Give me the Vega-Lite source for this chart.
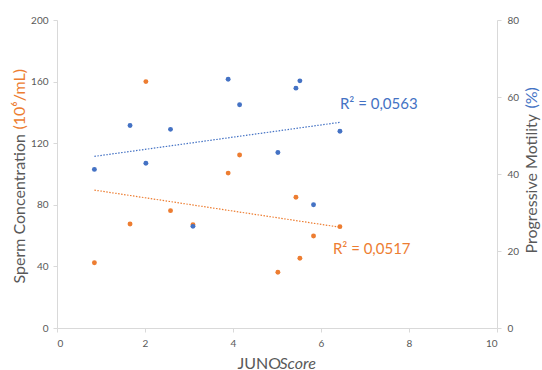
{
  "$schema": "https://vega.github.io/schema/vega-lite/v6.json",
  "width": 440,
  "height": 308,
  "autosize": "none",
  "padding": {"left": 57, "top": 20, "right": 45, "bottom": 42},
  "background": "white",
  "config": {
    "view": {"stroke": null},
    "font": "Lato",
    "axis": {
      "labelFont": "Lato",
      "titleFont": "Lato",
      "labelFontSize": 10,
      "labelColor": "#595959",
      "titleColor": "#595959",
      "titleFontSize": 16,
      "titleFontWeight": "normal",
      "domainColor": "#D9D9D9",
      "tickColor": "#D9D9D9",
      "grid": false
    }
  },
  "datasets": {
    "pts": [
      {"score": 0.85, "conc": 42.4, "motility": 41.2},
      {"score": 1.66, "conc": 67.5, "motility": 52.6},
      {"score": 2.02, "conc": 160.0, "motility": 42.8},
      {"score": 2.58, "conc": 76.2, "motility": 51.6},
      {"score": 3.09, "conc": 67.0, "motility": 26.4},
      {"score": 3.89, "conc": 100.6, "motility": 64.6},
      {"score": 4.15, "conc": 112.3, "motility": 58.0},
      {"score": 5.02, "conc": 36.2, "motility": 45.6},
      {"score": 5.43, "conc": 84.9, "motility": 62.3},
      {"score": 5.52, "conc": 45.3, "motility": 64.2},
      {"score": 5.83, "conc": 59.7, "motility": 32.0},
      {"score": 6.43, "conc": 65.8, "motility": 51.1}
    ],
    "r2conc": [{"score": 6.27, "conc": 51.3, "label": "R² = 0,0517"}],
    "r2mot": [{"score": 6.43, "motility": 58.2, "label": "R² = 0,0563"}]
  },
  "resolve": {"scale": {"y": "independent"}, "axis": {"y": "independent", "x": "independent"}},
  "layer": [
    {
      "data": {"name": "pts"},
      "mark": {"type": "circle", "size": 24, "color": "#ED7D31", "opacity": 1},
      "encoding": {
        "x": {"field": "score", "type": "quantitative", "scale": {"domain": [0, 10], "nice": false},
          "axis": {"orient": "bottom", "values": [0, 2, 4, 6, 8, 10], "tickSize": 4, "labelPadding": 6,
            "title": "JUNO", "titleX": 180, "titleY": 40, "titleAlign": "left", "titleBaseline": "alphabetic"}},
        "y": {"field": "conc", "type": "quantitative", "scale": {"domain": [0, 200], "nice": false},
          "axis": {"orient": "left", "values": [0, 40, 80, 120, 160, 200], "tickSize": 4, "labelPadding": 5,
            "title": "Sperm Concentration", "titleAngle": 270, "titleX": -33, "titleY": 263, "titleAlign": "left", "titleBaseline": "alphabetic"}}
      }
    },
    {
      "data": {"name": "pts"},
      "transform": [{"regression": "conc", "on": "score"}],
      "mark": {"type": "line", "color": "#ED7D31", "strokeWidth": 1.2, "strokeDash": [1.5, 1.5]},
      "encoding": {
        "x": {"field": "score", "type": "quantitative", "scale": {"domain": [0, 10], "nice": false},
          "axis": {"orient": "bottom", "labels": false, "ticks": false, "domain": false,
            "title": "Score", "titleFontStyle": "italic", "titleX": 222, "titleY": 40, "titleAlign": "left", "titleBaseline": "alphabetic"}},
        "y": {"field": "conc", "type": "quantitative", "scale": {"domain": [0, 200], "nice": false},
          "axis": {"orient": "left", "labels": false, "ticks": false, "domain": false,
            "title": "(10⁶/mL)", "titleColor": "#ED7D31", "titleAngle": 270, "titleX": -33, "titleY": 109, "titleAlign": "left", "titleBaseline": "alphabetic"}}
      }
    },
    {
      "data": {"name": "r2conc"},
      "mark": {"type": "text", "align": "left", "baseline": "middle", "fontSize": 15, "font": "Lato", "color": "#ED7D31"},
      "encoding": {
        "x": {"field": "score", "type": "quantitative", "scale": {"domain": [0, 10], "nice": false}, "axis": null},
        "y": {"field": "conc", "type": "quantitative", "scale": {"domain": [0, 200], "nice": false}, "axis": null},
        "text": {"field": "label"}
      }
    },
    {
      "data": {"name": "pts"},
      "mark": {"type": "circle", "size": 24, "color": "#4472C4", "opacity": 1},
      "encoding": {
        "x": {"field": "score", "type": "quantitative", "scale": {"domain": [0, 10], "nice": false}, "axis": null},
        "y": {"field": "motility", "type": "quantitative", "scale": {"domain": [0, 80], "nice": false},
          "axis": {"orient": "right", "values": [0, 20, 40, 60, 80], "tickSize": 4, "labelPadding": 6,
            "title": "Progressive Motility", "titleAngle": 270, "titleX": 39, "titleY": 233, "titleAlign": "left", "titleBaseline": "alphabetic"}}
      }
    },
    {
      "data": {"name": "pts"},
      "transform": [{"regression": "motility", "on": "score"}],
      "mark": {"type": "line", "color": "#4472C4", "strokeWidth": 1.2, "strokeDash": [1.5, 1.5]},
      "encoding": {
        "x": {"field": "score", "type": "quantitative", "scale": {"domain": [0, 10], "nice": false}, "axis": null},
        "y": {"field": "motility", "type": "quantitative", "scale": {"domain": [0, 80], "nice": false},
          "axis": {"orient": "right", "labels": false, "ticks": false, "domain": false,
            "title": "(%)", "titleColor": "#4472C4", "titleAngle": 270, "titleX": 39, "titleY": 88, "titleAlign": "left", "titleBaseline": "alphabetic"}}
      }
    },
    {
      "data": {"name": "r2mot"},
      "mark": {"type": "text", "align": "left", "baseline": "middle", "fontSize": 15, "font": "Lato", "color": "#4472C4"},
      "encoding": {
        "x": {"field": "score", "type": "quantitative", "scale": {"domain": [0, 10], "nice": false}, "axis": null},
        "y": {"field": "motility", "type": "quantitative", "scale": {"domain": [0, 80], "nice": false}, "axis": null},
        "text": {"field": "label"}
      }
    }
  ]
}
